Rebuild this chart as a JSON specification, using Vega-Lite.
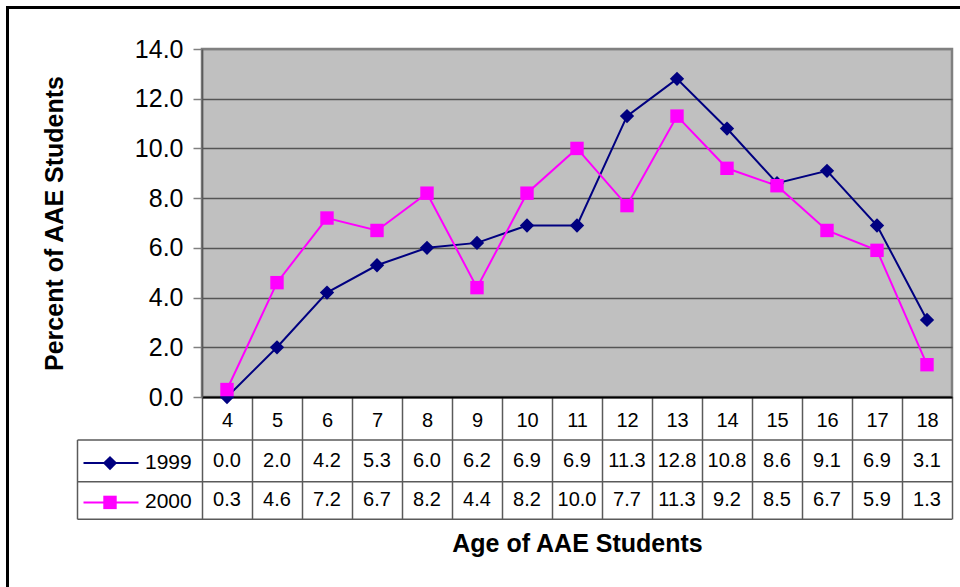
{
  "$schema": "https://vega.github.io/schema/vega-lite/v6.json",
  "autosize": "none",
  "padding": {"left": 202, "top": 49, "right": 8, "bottom": 190},
  "width": 750,
  "height": 348,
  "background": "white",
  "config": {
    "font": "Liberation Sans",
    "view": {"fill": "#C0C0C0", "stroke": "#808080", "strokeWidth": 2.5},
    "axis": {"labelColor": "black", "titleColor": "black", "labelFont": "Liberation Sans", "titleFont": "Liberation Sans"}
  },
  "data": {
    "values": [
      {"age": 4, "year": "1999", "pct": 0.0},
      {"age": 5, "year": "1999", "pct": 2.0},
      {"age": 6, "year": "1999", "pct": 4.2},
      {"age": 7, "year": "1999", "pct": 5.3},
      {"age": 8, "year": "1999", "pct": 6.0},
      {"age": 9, "year": "1999", "pct": 6.2},
      {"age": 10, "year": "1999", "pct": 6.9},
      {"age": 11, "year": "1999", "pct": 6.9},
      {"age": 12, "year": "1999", "pct": 11.3},
      {"age": 13, "year": "1999", "pct": 12.8},
      {"age": 14, "year": "1999", "pct": 10.8},
      {"age": 15, "year": "1999", "pct": 8.6},
      {"age": 16, "year": "1999", "pct": 9.1},
      {"age": 17, "year": "1999", "pct": 6.9},
      {"age": 18, "year": "1999", "pct": 3.1},
      {"age": 4, "year": "2000", "pct": 0.3},
      {"age": 5, "year": "2000", "pct": 4.6},
      {"age": 6, "year": "2000", "pct": 7.2},
      {"age": 7, "year": "2000", "pct": 6.7},
      {"age": 8, "year": "2000", "pct": 8.2},
      {"age": 9, "year": "2000", "pct": 4.4},
      {"age": 10, "year": "2000", "pct": 8.2},
      {"age": 11, "year": "2000", "pct": 10.0},
      {"age": 12, "year": "2000", "pct": 7.7},
      {"age": 13, "year": "2000", "pct": 11.3},
      {"age": 14, "year": "2000", "pct": 9.2},
      {"age": 15, "year": "2000", "pct": 8.5},
      {"age": 16, "year": "2000", "pct": 6.7},
      {"age": 17, "year": "2000", "pct": 5.9},
      {"age": 18, "year": "2000", "pct": 1.3}
    ]
  },
  "layer": [
    {
      "description": "Series lines, with both axes; x ticks sit between ages and run down as the table's column lines",
      "mark": {"type": "line", "strokeWidth": 2},
      "encoding": {
        "x": {
          "field": "age", "type": "quantitative",
          "scale": {"domain": [3.5, 18.5], "nice": false, "zero": false},
          "axis": {
            "values": [3.5, 4.5, 5.5, 6.5, 7.5, 8.5, 9.5, 10.5, 11.5, 12.5, 13.5, 14.5, 15.5, 16.5, 17.5, 18.5],
            "labelExpr": "datum.value < 18 ? format(datum.value + 0.5, 'd') : ''",
            "labelOffset": 25,
            "tickSize": 122, "tickColor": "#5a5a5a", "tickWidth": 1.5,
            "labelPadding": -109, "labelFontSize": 20, "labelFlush": false, "labelOverlap": false,
            "domainColor": "black", "domainWidth": 2,
            "grid": false,
            "title": "Age of AAE Students",
            "titleFontSize": 25, "titleFontWeight": "bold", "titlePadding": 12
          }
        },
        "y": {
          "field": "pct", "type": "quantitative",
          "scale": {"domain": [0, 14], "nice": false, "zero": true},
          "axis": {
            "values": [0, 2, 4, 6, 8, 10, 12, 14],
            "format": ".1f",
            "labelFontSize": 25, "labelPadding": 10,
            "tickSize": 9, "tickColor": "#808080", "tickWidth": 1.5,
            "domainColor": "#5a5a5a", "domainWidth": 1.5,
            "grid": true,
            "gridColor": {"condition": {"test": "datum.value >= 14", "value": "#808080"}, "value": "#555555"},
            "gridWidth": 1.5,
            "title": "Percent of AAE Students",
            "titleFontSize": 25, "titleFontWeight": "bold", "titlePadding": 67
          }
        },
        "color": {"field": "year", "type": "nominal", "scale": {"domain": ["1999", "2000"], "range": ["#000080", "#FF00FF"]}, "legend": null}
      }
    },
    {
      "description": "Chart area frame",
      "mark": {"type": "rect", "filled": false, "stroke": "black", "strokeWidth": 2.5},
      "encoding": {
        "x": {"datum": -0.39, "type": "quantitative"},
        "x2": {"datum": 19.2},
        "y": {"datum": 15.67, "type": "quantitative"},
        "y2": {"datum": -9}
      }
    },
    {
      "description": "Data table ruling: horizontal lines and legend column edge",
      "data": {"values": [{"k": 0}]},
      "layer": [
        {"mark": {"type": "rule", "color": "#5a5a5a", "strokeWidth": 1.5},
         "encoding": {"x": {"datum": 1.01, "type": "quantitative"}, "x2": {"datum": 18.5}, "y": {"datum": -1.73, "type": "quantitative"}}},
        {"mark": {"type": "rule", "color": "#5a5a5a", "strokeWidth": 1.5},
         "encoding": {"x": {"datum": 1.01, "type": "quantitative"}, "x2": {"datum": 18.5}, "y": {"datum": -3.41, "type": "quantitative"}}},
        {"mark": {"type": "rule", "color": "#5a5a5a", "strokeWidth": 1.5},
         "encoding": {"x": {"datum": 1.01, "type": "quantitative"}, "x2": {"datum": 18.5}, "y": {"datum": -4.92, "type": "quantitative"}}},
        {"mark": {"type": "rule", "color": "#5a5a5a", "strokeWidth": 1.5},
         "encoding": {"x": {"datum": 1.01, "type": "quantitative"}, "y": {"datum": -1.73, "type": "quantitative"}, "y2": {"datum": -4.92}}}
      ]
    },
    {
      "description": "1999 markers",
      "transform": [{"filter": "datum.year == '1999'"}],
      "mark": {"type": "point", "shape": "diamond", "filled": true, "opacity": 1, "size": 205},
      "encoding": {
        "x": {"field": "age", "type": "quantitative"},
        "y": {"field": "pct", "type": "quantitative"},
        "color": {"field": "year", "type": "nominal", "legend": null}
      }
    },
    {
      "description": "2000 markers",
      "transform": [{"filter": "datum.year == '2000'"}],
      "mark": {"type": "point", "shape": "square", "filled": true, "opacity": 1, "size": 180},
      "encoding": {
        "x": {"field": "age", "type": "quantitative"},
        "y": {"field": "pct", "type": "quantitative"},
        "color": {"field": "year", "type": "nominal", "legend": null}
      }
    },
    {
      "description": "Data table values, 1999 row",
      "transform": [{"filter": "datum.year == '1999'"}],
      "mark": {"type": "text", "fontSize": 20, "baseline": "middle", "align": "center", "color": "black"},
      "encoding": {
        "x": {"field": "age", "type": "quantitative"},
        "y": {"datum": -2.56, "type": "quantitative"},
        "text": {"field": "pct", "type": "quantitative", "format": ".1f"}
      }
    },
    {
      "description": "Data table values, 2000 row",
      "transform": [{"filter": "datum.year == '2000'"}],
      "mark": {"type": "text", "fontSize": 20, "baseline": "middle", "align": "center", "color": "black"},
      "encoding": {
        "x": {"field": "age", "type": "quantitative"},
        "y": {"datum": -4.16, "type": "quantitative"},
        "text": {"field": "pct", "type": "quantitative", "format": ".1f"}
      }
    },
    {
      "description": "Legend key for 1999 in the table",
      "transform": [{"filter": "datum.year == '1999' && datum.age == 4"}],
      "layer": [
        {"mark": {"type": "rule", "strokeWidth": 2},
         "encoding": {"x": {"datum": 1.13, "type": "quantitative"}, "x2": {"datum": 2.23}, "y": {"datum": -2.66, "type": "quantitative"},
                      "color": {"field": "year", "type": "nominal", "legend": null}}},
        {"mark": {"type": "point", "shape": "diamond", "filled": true, "opacity": 1, "size": 205},
         "encoding": {"x": {"datum": 1.66, "type": "quantitative"}, "y": {"datum": -2.66, "type": "quantitative"},
                      "color": {"field": "year", "type": "nominal", "legend": null}}},
        {"mark": {"type": "text", "fontSize": 21, "baseline": "middle", "align": "left", "color": "black"},
         "encoding": {"x": {"datum": 2.36, "type": "quantitative"}, "y": {"datum": -2.66, "type": "quantitative"},
                      "text": {"field": "year", "type": "nominal"}}}
      ]
    },
    {
      "description": "Legend key for 2000 in the table",
      "transform": [{"filter": "datum.year == '2000' && datum.age == 4"}],
      "layer": [
        {"mark": {"type": "rule", "strokeWidth": 2},
         "encoding": {"x": {"datum": 1.13, "type": "quantitative"}, "x2": {"datum": 2.23}, "y": {"datum": -4.24, "type": "quantitative"},
                      "color": {"field": "year", "type": "nominal", "legend": null}}},
        {"mark": {"type": "point", "shape": "square", "filled": true, "opacity": 1, "size": 180},
         "encoding": {"x": {"datum": 1.66, "type": "quantitative"}, "y": {"datum": -4.24, "type": "quantitative"},
                      "color": {"field": "year", "type": "nominal", "legend": null}}},
        {"mark": {"type": "text", "fontSize": 21, "baseline": "middle", "align": "left", "color": "black"},
         "encoding": {"x": {"datum": 2.36, "type": "quantitative"}, "y": {"datum": -4.24, "type": "quantitative"},
                      "text": {"field": "year", "type": "nominal"}}}
      ]
    }
  ]
}
